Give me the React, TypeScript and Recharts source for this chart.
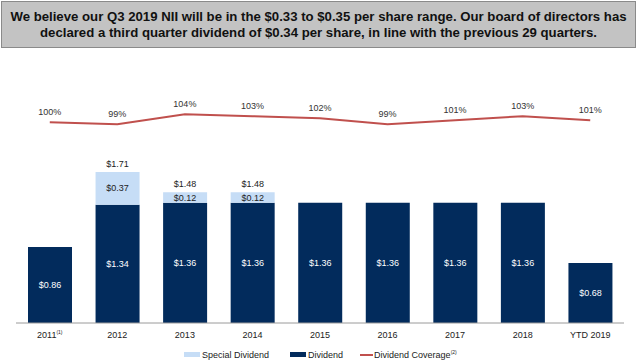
import React from 'react';
import { ComposedChart, Bar, Line, XAxis, YAxis, LabelList } from 'recharts';

// Chart values
const categories = ['2011', '2012', '2013', '2014', '2015', '2016', '2017', '2018', 'YTD 2019'];
const dividend = [0.86, 1.34, 1.36, 1.36, 1.36, 1.36, 1.36, 1.36, 0.68];
const specialDividend = [0, 0.37, 0.12, 0.12, 0, 0, 0, 0, 0];
const coverage = [100, 99, 104, 103, 102, 99, 101, 103, 101];
const footnotes: Record<string, string> = { '2011': '(1)' };

const data = categories.map((name, i) => ({
  name,
  idx: i,
  dividend: dividend[i],
  special: specialDividend[i],
  coverage: coverage[i],
}));

const NAVY = '#022B5C';
const LIGHT = '#C6DDF6';
const RED = '#C0504D';
const FONT = '"Liberation Sans", Arial, sans-serif';

const money = (v: number) => `$${v.toFixed(2)}`;

const XTick = (props: any) => {
  const { x, y, payload } = props;
  const note = footnotes[payload.value];
  return (
    <text x={x} y={y + 7} textAnchor="middle" fontSize={9} fill="#222" fontFamily={FONT}>
      {payload.value}
      {note && (
        <tspan fontSize={5} dy={-4}>
          {note}
        </tspan>
      )}
    </text>
  );
};

// label inside the special segment plus total above the bar
const SpecialLabel = (props: any) => {
  const { x, y, width, height, value } = props;
  const i = Number(value);
  const s = specialDividend[i];
  if (!s) return null;
  const cx = x + width / 2;
  return (
    <g fontFamily={FONT} fontSize={9} fill="#222">
      <text x={cx} y={y + height / 2} textAnchor="middle" dominantBaseline="central">
        {money(s)}
      </text>
      <text x={cx} y={y - 5} textAnchor="middle">
        {money(dividend[i] + s)}
      </text>
    </g>
  );
};

const DividendLabel = (props: any) => {
  const { x, y, width, height, value } = props;
  return (
    <text
      x={x + width / 2}
      y={y + height / 2}
      textAnchor="middle"
      dominantBaseline="central"
      fontFamily={FONT}
      fontSize={9}
      fill="#fff"
    >
      {money(value)}
    </text>
  );
};

const CoverageLabel = (props: any) => {
  const { x, y, value } = props;
  return (
    <text x={x} y={y - 7} textAnchor="middle" fontFamily={FONT} fontSize={9} fill="#333">
      {`${value}%`}
    </text>
  );
};

export default function App() {
  return (
    <div style={{ position: 'absolute', left: 0, top: 0, width: 640, height: 360, background: '#fff', fontFamily: FONT }}>
      <div
        style={{
          position: 'absolute',
          left: 1,
          top: 1,
          width: 633,
          height: 45,
          background: '#C3C3C3',
          border: '1px solid #8a8a8a',
          display: 'flex',
          alignItems: 'center',
          justifyContent: 'center',
          textAlign: 'center',
          fontWeight: 'bold',
          fontSize: 13.2,
          lineHeight: '16px',
          color: '#111',
          whiteSpace: 'nowrap',
        }}
      >
        <div>
          We believe our Q3 2019 NII will be in the $0.33 to $0.35 per share range. Our board of directors has
          <br />
          declared a third quarter dividend of $0.34 per share, in line with the previous 29 quarters.
        </div>
      </div>

      <div style={{ position: 'absolute', left: 0, top: 0 }}>
        <ComposedChart
          width={640}
          height={360}
          data={data}
          margin={{ top: 58, right: 16, bottom: 7, left: 16 }}
        >
          <XAxis
            dataKey="name"
            height={30}
            axisLine={{ stroke: '#9a9a9a', strokeWidth: 1 }}
            tickLine={false}
            tick={<XTick />}
            interval={0}
          />
          <YAxis yAxisId="left" hide domain={[0, 3]} />
          <YAxis yAxisId="right" hide orientation="right" domain={[0, 132]} />
          <Bar yAxisId="left" dataKey="dividend" stackId="a" fill={NAVY} barSize={44} isAnimationActive={false}>
            <LabelList dataKey="dividend" content={<DividendLabel />} />
          </Bar>
          <Bar yAxisId="left" dataKey="special" stackId="a" fill={LIGHT} barSize={44} isAnimationActive={false}>
            <LabelList dataKey="idx" content={<SpecialLabel />} />
          </Bar>
          <Line
            yAxisId="right"
            dataKey="coverage"
            stroke={RED}
            strokeWidth={2}
            dot={false}
            activeDot={false}
            isAnimationActive={false}
          >
            <LabelList dataKey="coverage" content={<CoverageLabel />} />
          </Line>
        </ComposedChart>
      </div>

      {/* legend */}
      <div
        style={{
          position: 'absolute',
          top: 349,
          left: 184,
          display: 'flex',
          alignItems: 'center',
          fontSize: 9,
          color: '#222',
          fontFamily: FONT,
          whiteSpace: 'nowrap',
        }}
      >
        <span style={{ display: 'inline-block', width: 16, height: 5, background: LIGHT, marginRight: 2 }} />
        <span style={{ marginRight: 21 }}>Special Dividend</span>
        <span style={{ display: 'inline-block', width: 16, height: 5, background: NAVY, marginRight: 2 }} />
        <span style={{ marginRight: 17 }}>Dividend</span>
        <span style={{ display: 'inline-block', width: 13, height: 2, background: RED, marginRight: 1 }} />
        <span>
          Dividend Coverage<sup style={{ fontSize: 5 }}>(2)</sup>
        </span>
      </div>
    </div>
  );
}
